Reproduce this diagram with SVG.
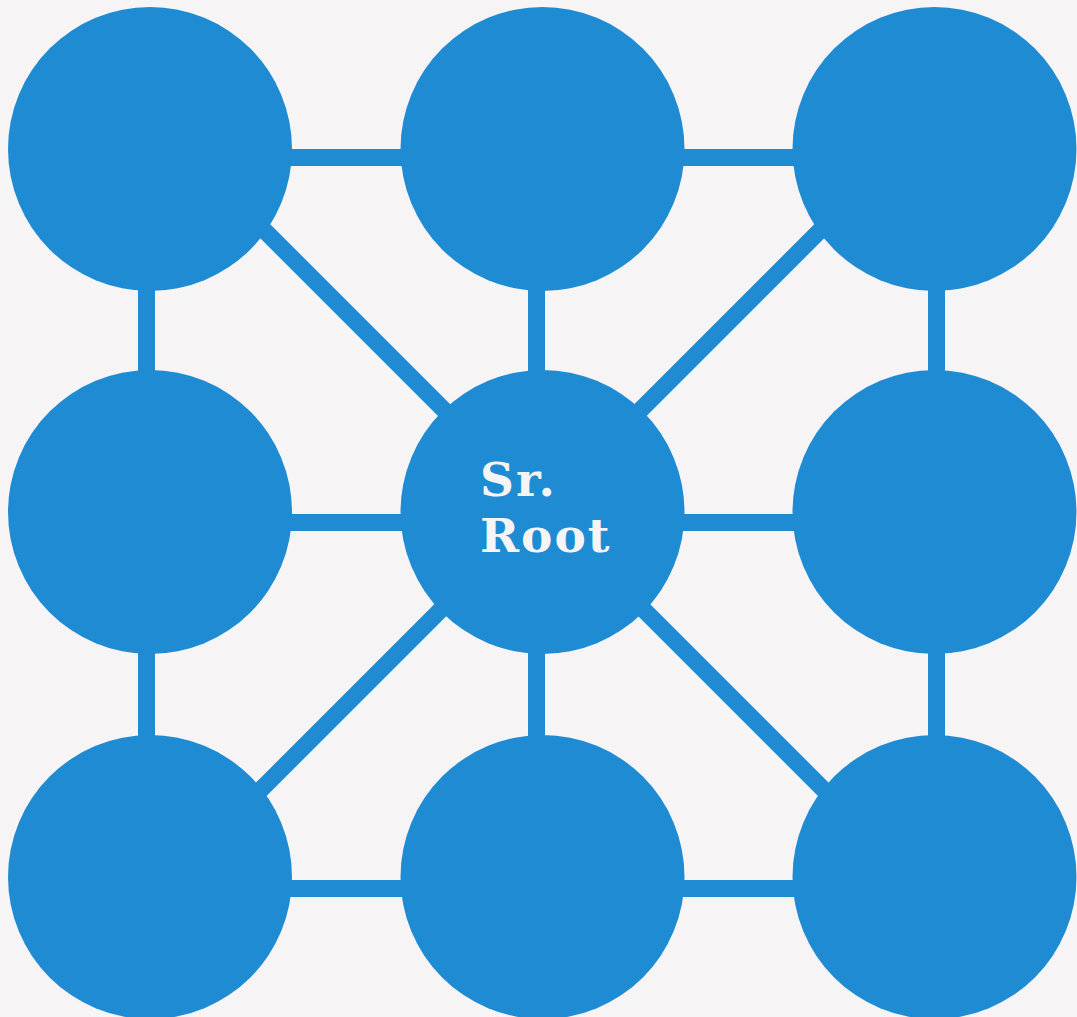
<svg xmlns="http://www.w3.org/2000/svg" width="1077" height="1017" viewBox="0 0 1077 1017">
<style>
.bg{fill:#f6f4f5}
.edge{stroke:#1e8bd3;stroke-width:17;fill:none}
.node{fill:#1e8bd3}
.lbl{fill:#f6f4f5;font-family:"DejaVu Serif",serif;font-weight:bold;font-size:47px;letter-spacing:2px}
</style>
<rect class="bg" x="0" y="0" width="1077" height="1017"/>
<g id="connectors">
<line class="edge" x1="150" y1="157.5" x2="935" y2="157.5"/>
<line class="edge" x1="150" y1="522.5" x2="935" y2="522.5"/>
<line class="edge" x1="150" y1="888.5" x2="935" y2="888.5"/>
<line class="edge" x1="146.5" y1="149" x2="146.5" y2="877"/>
<line class="edge" x1="536.5" y1="149" x2="536.5" y2="877"/>
<line class="edge" x1="936.5" y1="149" x2="936.5" y2="877"/>
<line class="edge" x1="183" y1="149" x2="911" y2="877"/>
<line class="edge" x1="901.5" y1="149" x2="173.5" y2="877"/>
</g>
<g id="n00"><circle class="node" cx="150" cy="149" r="142"/></g>
<g id="n01"><circle class="node" cx="542.5" cy="149" r="142"/></g>
<g id="n02"><circle class="node" cx="934.5" cy="149" r="142"/></g>
<g id="n10"><circle class="node" cx="150" cy="512" r="142"/></g>
<g id="root"><circle class="node" cx="542.5" cy="512" r="142"/>
<text class="lbl" x="480" y="496">Sr.</text>
<text class="lbl" x="480" y="552">Root</text></g>
<g id="n12"><circle class="node" cx="934.5" cy="512" r="142"/></g>
<g id="n20"><circle class="node" cx="150" cy="877" r="142"/></g>
<g id="n21"><circle class="node" cx="542.5" cy="877" r="142"/></g>
<g id="n22"><circle class="node" cx="934.5" cy="877" r="142"/></g>
</svg>
